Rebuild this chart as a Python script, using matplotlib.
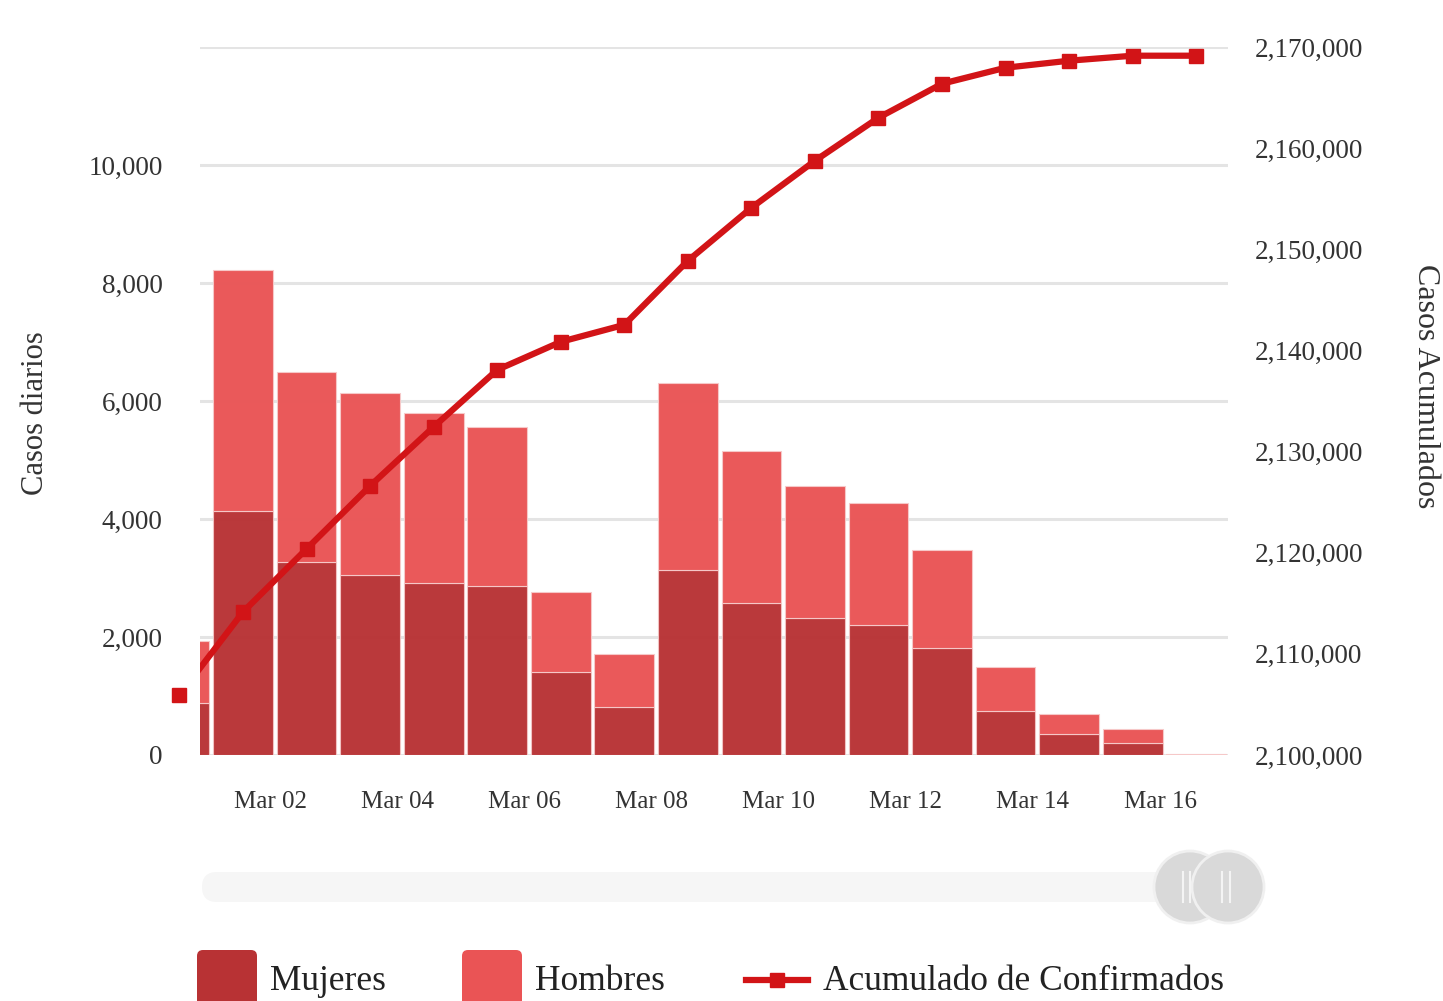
"""
   Casos diarios por sexo y acumulado de confirmados
"""

import numpy as np
import matplotlib.pyplot as plt
from matplotlib.patches import FancyBboxPatch, Ellipse
from matplotlib.lines import Line2D
from matplotlib.ticker import FuncFormatter

#      Data
dias = ["Mar 01", "Mar 02", "Mar 03", "Mar 04", "Mar 05", "Mar 06", "Mar 07", "Mar 08",
        "Mar 09", "Mar 10", "Mar 11", "Mar 12", "Mar 13", "Mar 14", "Mar 15", "Mar 16", "Mar 17"]
mujeres = [878, 4134, 3268, 3059, 2918, 2860, 1399, 810, 3144, 2577, 2323, 2197, 1813,
           753, 351, 198, 8]
total_diario = [1925, 8213, 6496, 6134, 5789, 5551, 2765, 1711, 6299, 5154, 4559, 4277,
                3483, 1484, 691, 447, 15]
acumulado = [2105935, 2114144, 2120376, 2126607, 2132443, 2138081, 2140851, 2142532,
             2148863, 2154105, 2158754, 2163007, 2166370, 2167953, 2168645, 2169139, 2169139]

hombres = [t - m for t, m in zip(total_diario, mujeres)]

C_MUJ = "#B83234"
C_HOM = "#EA5455"
C_LINE = "#D21417"
FONT = "Liberation Serif"
TXT = "#333333"

plt.rcParams["font.family"] = [FONT, "DejaVu Serif"]

fig = plt.figure(figsize=(14.43, 10.01), dpi=100)

#      Background layer in pixel coordinates for slider and legend
deco = fig.add_axes([0, 0, 1, 1])
deco.set_xlim(0, 1443)
deco.set_ylim(1001, 0)
deco.axis("off")

ax = fig.add_axes([200 / 1443, 1 - 755 / 1001, 1028 / 1443, 708 / 1001])
ax2 = ax.twinx()
ax.set_zorder(1)
ax2.set_zorder(2)

x = np.arange(len(dias))

ax.bar(x, mujeres, width=0.94, color=C_MUJ, edgecolor="#f2c4c4", linewidth=0.8,
       alpha=0.97, zorder=2)
ax.bar(x, hombres, bottom=mujeres, width=0.94, color=C_HOM, edgecolor="#f7caca",
       linewidth=0.8, alpha=0.97, zorder=2)

ax.set_ylim(0, 12000)
ax.set_yticks(np.arange(0, 12001, 2000))
ax.set_xlim(0.323, 16.5)
ax.yaxis.grid(True, color="#e4e4e4", linewidth=2.2, zorder=0)
ax.set_axisbelow(True)

thou = FuncFormatter(lambda v, p: f"{int(v):,}")
ax.set_yticklabels([f"{int(v):,}" for v in np.arange(0, 12001, 2000)][:-1] + [""])

ticks = x[1::2]
ax.set_xticks(ticks + 0.43)
ax.set_xticklabels([dias[i] for i in ticks])

for a in (ax, ax2):
    for s in a.spines.values():
        s.set_visible(False)
    a.tick_params(length=0, labelsize=19.5, labelcolor=TXT)
ax.tick_params(axis="x", pad=26, labelsize=18)
ax.tick_params(axis="y", pad=27)
ax2.tick_params(axis="y", pad=19)

ax.set_ylabel("Casos diarios", fontsize=22, color=TXT)
ax.yaxis.set_label_coords(-0.146, 0.483)

#      Cumulative line (line clipped, markers not)
ax2.plot(x, acumulado, color=C_LINE, linewidth=4.5, zorder=3)
ax2.plot(x, acumulado, linestyle="none", marker="s", markersize=10, color=C_LINE,
         clip_on=False, zorder=4)
ax2.set_ylim(2100000, 2170000)
ax2.set_yticks(np.arange(2100000, 2170001, 10000))
ax2.yaxis.set_major_formatter(thou)
ax2.set_ylabel("Casos Acumulados", fontsize=23, color=TXT, rotation=270)
ax2.yaxis.set_label_coords(1.206, 0.521)

#      Slider below the chart
deco.add_patch(FancyBboxPatch((202, 872), 1003, 30, boxstyle="round,pad=0,rounding_size=15",
                              facecolor="#f6f6f6", edgecolor="none"))
for cx in (1190, 1228):
    deco.add_patch(Ellipse((cx, 887), 72, 72, facecolor="#d9d9d9", edgecolor="#f0f0f0",
                           linewidth=2))
for lx in (1183, 1190, 1222, 1230):
    deco.plot([lx, lx], [872, 902], color="#f4f4f4", linewidth=1.5)

#      Legend drawn at the bottom, partly cut off as in the original
for px, lab, col in ((197, "Mujeres", C_MUJ), (462, "Hombres", C_HOM)):
    deco.add_patch(FancyBboxPatch((px, 950), 60, 70, boxstyle="round,pad=0,rounding_size=6",
                                  facecolor=col, edgecolor="none"))
    deco.text(px + 73, 982, lab, fontsize=25.5, color="#222222", va="center", ha="left")
deco.add_line(Line2D([746, 808], [980, 980], color=C_LINE, linewidth=4.5))
deco.plot([777], [980], marker="s", markersize=10, color=C_LINE)
deco.text(823, 982, "Acumulado de Confirmados", fontsize=25.5, color="#222222",
          va="center", ha="left")

fig.savefig("out.png", dpi=100)
